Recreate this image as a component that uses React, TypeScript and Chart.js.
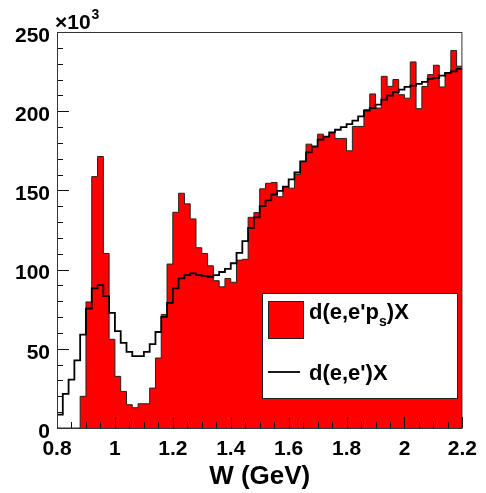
import React, { useEffect, useRef } from 'react';
import { Chart, registerables } from 'chart.js';

Chart.register(...registerables);

// Histogram binning in W (GeV)
const W_MIN = 0.8;
const W_MAX = 2.2;
const BIN_WIDTH = 0.02;

// d(e,e'p_s)X yield per 20 MeV bin, in units of 10^3
const taggedCounts = [
  0, 0, 0, 0, 20, 79.6, 158.7, 171.4, 110.2, 56,
  32.6, 23.1, 14.7, 12.8, 15.3, 15.3, 25.2, 44.2, 71.6, 103.5,
  136.2, 148.2, 141.5, 132, 113.8, 110.2, 102.4, 93, 89.1, 94.4,
  92, 106, 106.5, 133, 136, 151, 154.5, 155, 146, 152.4,
  151.4, 160, 168.3, 179.2, 177.7, 185.5, 184, 186, 182.8, 182.8,
  175, 190.4, 190.4, 200.9, 210.9, 202, 222, 215.7, 220, 210.4,
  208.2, 231.1, 201.6, 215.6, 223.1, 229, 215.3, 224.2, 238.3, 228.4,
];

// d(e,e')X yield per 20 MeV bin (scaled), in units of 10^3
const inclusiveCounts = [
  8.4, 21.6, 30.5, 42.7, 59, 75.4, 88.1, 90.2, 83.2, 72.7,
  61.1, 53.7, 48, 45.4, 45.4, 48, 53, 60.6, 70.1, 79,
  88.1, 94.4, 96.5, 97.6, 96.5, 96, 95.5, 96.5, 98.5, 100.5,
  104, 110.5, 118, 126.3, 133, 140.1, 143.7, 147.4, 149.7, 152.4,
  157, 161.3, 168.3, 174, 177.7, 182, 184, 186.6, 188.3, 190,
  191.9, 194, 196.7, 200.3, 202, 204.1, 207.3, 209.8, 212, 213.6,
  215.3, 216.1, 217.2, 218.5, 220.4, 221, 222.5, 224.2, 225.2, 226.7,
];

const Y_MIN = 0;
const Y_MAX = 250;
const Y_STEP = 50;
const X_STEP = 0.2;

const FONT = '"Liberation Sans", Arial, Helvetica, sans-serif';
const RED = '#ff0000';

// Left bin edges plus the closing edge, for a stepped outline
function toSteps(values: number[]) {
  const pts = values.map((v, i) => ({ x: W_MIN + i * BIN_WIDTH, y: v }));
  pts.push({ x: W_MAX, y: values[values.length - 1] });
  return pts;
}

// Frame, inner tick marks, exponent label and legend box
const decorations = {
  id: 'decorations',
  afterDatasetsDraw(chart: any) {
    const { ctx, chartArea: a, scales } = chart;
    const xs = scales.x;
    const ys = scales.y;
    ctx.save();
    ctx.strokeStyle = '#111';
    ctx.lineWidth = 1;
    ctx.beginPath();
    for (let v = Y_MIN; v <= Y_MAX + 1e-6; v += 10) {
      const py = Math.round(ys.getPixelForValue(v)) + 0.5;
      const len = v % Y_STEP === 0 ? 12 : 6;
      ctx.moveTo(a.left, py);
      ctx.lineTo(a.left + len, py);
    }
    for (let k = 0; k <= 28; k++) {
      const px = Math.round(xs.getPixelForValue(W_MIN + k * 0.05)) + 0.5;
      const len = k % 4 === 0 ? 11 : 6;
      ctx.moveTo(px, a.bottom);
      ctx.lineTo(px, a.bottom - len);
    }
    ctx.stroke();
    ctx.strokeStyle = '#333';
    ctx.strokeRect(a.left + 0.5, a.top + 0.5, a.right - a.left - 1, a.bottom - a.top);
    ctx.restore();
  },
  afterDraw(chart: any) {
    const { ctx, chartArea: a } = chart;
    ctx.save();
    ctx.fillStyle = '#000';
    ctx.textBaseline = 'alphabetic';
    ctx.textAlign = 'left';
    // x10^3 multiplier
    ctx.font = `bold 21px ${FONT}`;
    ctx.fillText('\u00d710', a.left - 2, a.top - 3);
    const w = ctx.measureText('\u00d710').width;
    ctx.font = `bold 14px ${FONT}`;
    ctx.fillText('3', a.left - 2 + w + 1, a.top - 13);

    // legend
    const bx = 262, by = 293, bw = 195, bh = 105;
    ctx.fillStyle = '#fff';
    ctx.fillRect(bx, by, bw, bh);
    ctx.strokeStyle = '#222';
    ctx.lineWidth = 1;
    ctx.strokeRect(bx + 0.5, by + 0.5, bw, bh);

    ctx.fillStyle = RED;
    ctx.fillRect(268, 301, 35, 37);
    ctx.strokeRect(268.5, 301.5, 35, 37);

    ctx.strokeStyle = '#000';
    ctx.lineWidth = 1.8;
    ctx.beginPath();
    ctx.moveTo(268, 372);
    ctx.lineTo(300, 372);
    ctx.stroke();

    ctx.fillStyle = '#000';
    const tx = 309;
    ctx.font = `bold 22px ${FONT}`;
    let x = tx;
    const p1 = "d(e,e'p";
    ctx.fillText(p1, x, 319);
    x += ctx.measureText(p1).width;
    ctx.font = `bold 14px ${FONT}`;
    ctx.fillText('s', x, 326);
    x += ctx.measureText('s').width;
    ctx.font = `bold 22px ${FONT}`;
    ctx.fillText(')X', x, 319);

    ctx.fillText("d(e,e')X", tx, 380);
    ctx.restore();
  },
};

export default function App() {
  const ref = useRef<HTMLCanvasElement>(null);

  useEffect(() => {
    const canvas = ref.current;
    if (!canvas) return;
    const tickFont = { family: FONT, size: 21, weight: 'bold' as const };
    const chart = new Chart(canvas, {
      type: 'line',
      data: {
        datasets: [
          {
            label: "d(e,e')X",
            data: toSteps(inclusiveCounts),
            stepped: true,
            borderColor: '#000',
            borderWidth: 1.8,
            pointRadius: 0,
            fill: false,
            order: 1,
          },
          {
            label: "d(e,e'p_s)X",
            data: toSteps(taggedCounts),
            stepped: true,
            borderColor: '#222',
            borderWidth: 1,
            backgroundColor: RED,
            pointRadius: 0,
            fill: 'origin',
            order: 2,
          },
        ],
      },
      options: {
        animation: false,
        responsive: false,
        events: [],
        layout: { padding: { top: 32, right: 21, left: 0, bottom: 0 } },
        plugins: {
          legend: { display: false },
          tooltip: { enabled: false },
        },
        scales: {
          x: {
            type: 'linear',
            min: W_MIN,
            max: W_MAX,
            grid: { display: false, drawTicks: false },
            border: { display: false },
            ticks: {
              stepSize: X_STEP,
              padding: 9,
              color: '#000',
              font: tickFont,
              maxRotation: 0,
              autoSkip: false,
              callback: (v: any) => String(Number(Number(v).toFixed(2))),
            },
            title: {
              display: true,
              text: 'W (GeV)',
              color: '#000',
              font: { family: FONT, size: 26, weight: 'bold' },
              padding: { top: 0, bottom: 1 },
            },
            afterFit: (s: any) => {
              s.height = 65;
            },
          },
          y: {
            type: 'linear',
            min: Y_MIN,
            max: Y_MAX,
            grid: { display: false, drawTicks: false },
            border: { display: false },
            ticks: {
              stepSize: Y_STEP,
              padding: 7,
              labelOffset: 4,
              color: '#000',
              font: tickFont,
            },
            afterFit: (s: any) => {
              s.width = 57;
            },
          },
        },
      },
      plugins: [decorations],
    });
    return () => chart.destroy();
  }, []);

  return (
    <div style={{ position: 'fixed', left: 0, top: 0, width: 486, height: 493, background: '#fff' }}>
      <canvas ref={ref} width={486} height={493} style={{ display: 'block' }} />
    </div>
  );
}
